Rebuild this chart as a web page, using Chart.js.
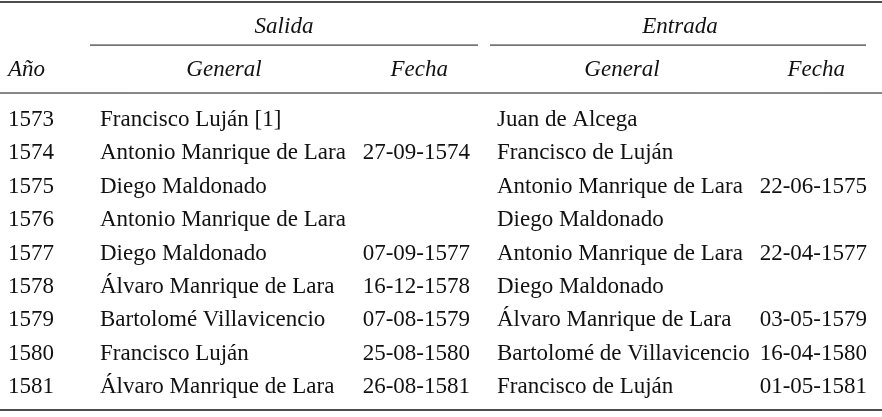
<!DOCTYPE html>
<html>
<head>
<meta charset="utf-8">
<script src="https://cdn.jsdelivr.net/npm/chart.js@4"></script>
<style>
  html, body { margin: 0; padding: 0; background: #fff; }
  #wrap { width: 882px; height: 417px; }
</style>
</head>
<body>
<div id="wrap"><canvas id="tabla"></canvas></div>
<script>
// datos de la tabla
const anios = ['1573', '1574', '1575', '1576', '1577', '1578', '1579', '1580', '1581'];
const salidaGeneral = ['Francisco Luján [1]', 'Antonio Manrique de Lara', 'Diego Maldonado', 'Antonio Manrique de Lara',
  'Diego Maldonado', 'Álvaro Manrique de Lara', 'Bartolomé Villavicencio', 'Francisco Luján', 'Álvaro Manrique de Lara'];
const salidaFecha = ['', '27-09-1574', '', '', '07-09-1577', '16-12-1578', '07-08-1579', '25-08-1580', '26-08-1581'];
const entradaGeneral = ['Juan de Alcega', 'Francisco de Luján', 'Antonio Manrique de Lara', 'Diego Maldonado',
  'Antonio Manrique de Lara', 'Diego Maldonado', 'Álvaro Manrique de Lara', 'Bartolomé de Villavicencio', 'Francisco de Luján'];
const entradaFecha = ['', '', '22-06-1575', '', '22-04-1577', '', '03-05-1579', '16-04-1580', '01-05-1581'];

const FONT = '23px "Liberation Serif", "DejaVu Serif", serif';
const FONT_I = 'italic ' + FONT;

// dibuja el texto de la tabla sobre las escalas
const tablaPlugin = {
  id: 'tabla',
  afterDraw(chart) {
    const ctx = chart.ctx;
    const x = chart.scales.x;
    const y = chart.scales.y;
    const px = v => x.getPixelForValue(v);
    const py = v => y.getPixelForValue(v);

    ctx.save();
    ctx.strokeStyle = '#111';
    ctx.fillStyle = '#111';
    ctx.textBaseline = 'middle';

    const linea = (x0, x1, yv, w) => {
      ctx.lineWidth = w;
      ctx.beginPath();
      ctx.moveTo(px(x0), py(yv));
      ctx.lineTo(px(x1), py(yv));
      ctx.stroke();
    };
    linea(0, 882, -3.53, 1.5);
    linea(90, 478, -2.243, 1);
    linea(490, 866, -2.243, 1);
    linea(0, 882, -0.808, 1);
    linea(0, 882, 8.683, 1.5);

    const texto = (t, xv, yv, align, font) => {
      ctx.font = font;
      ctx.textAlign = align;
      ctx.fillText(t, px(xv), py(yv));
    };
    texto('Salida', 284, -2.78, 'center', FONT_I);
    texto('Entrada', 680, -2.78, 'center', FONT_I);
    texto('Año', 8, -1.5, 'left', FONT_I);
    texto('General', 224, -1.5, 'center', FONT_I);
    texto('Fecha', 448, -1.5, 'right', FONT_I);
    texto('General', 622, -1.5, 'center', FONT_I);
    texto('Fecha', 845, -1.5, 'right', FONT_I);

    anios.forEach((a, i) => {
      texto(a, 8, i, 'left', FONT);
      texto(salidaGeneral[i], 100, i, 'left', FONT);
      texto(salidaFecha[i], 470, i, 'right', FONT);
      texto(entradaGeneral[i], 497, i, 'left', FONT);
      texto(entradaFecha[i], 867, i, 'right', FONT);
    });
    ctx.restore();
  }
};

new Chart(document.getElementById('tabla'), {
  type: 'scatter',
  data: { datasets: [{ data: anios.map((a, i) => ({ x: 0, y: i })), pointRadius: 0 }] },
  options: {
    responsive: true,
    maintainAspectRatio: false,
    animation: false,
    layout: { padding: 0 },
    plugins: { legend: { display: false }, tooltip: { enabled: false } },
    scales: {
      x: { type: 'linear', min: 0, max: 882, display: false },
      y: { type: 'linear', reverse: true, min: -3.593, max: 8.892, display: false }
    }
  },
  plugins: [tablaPlugin]
});
</script>
</body>
</html>
